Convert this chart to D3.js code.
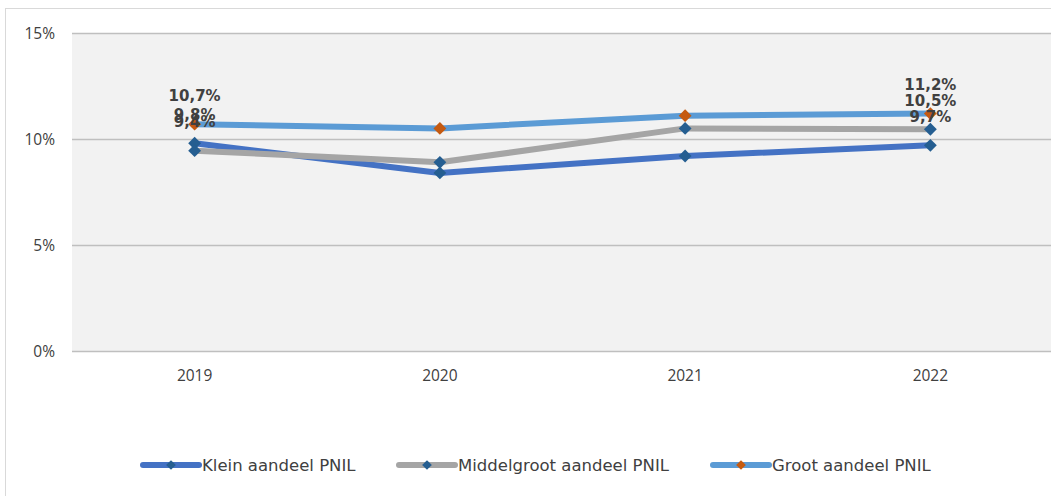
<!DOCTYPE html>
<html lang="nl">
<head>
  <meta charset="UTF-8">
  <title>Aandeel PNIL</title>
  <script src="https://d3js.org/d3.v7.min.js"></script>
  <style>
    body { margin: 0; background: #fff; }
    svg { display: block; }
    .tick-label { font-family: "Open Sans", sans-serif; font-size: 15.5px; fill: #404040; }
    .data-label { font-family: "DejaVu Sans", sans-serif; font-size: 15px; font-weight: bold; fill: #404040; }
    .legend-text { font-family: "DejaVu Sans", sans-serif; font-size: 16.5px; fill: #404040; }
  </style>
</head>
<body>
  <svg id="chart"></svg>
  <script>
    // data
    const years = ["2019", "2020", "2021", "2022"];
    const klein = [9.8, 8.4, 9.2, 9.7];
    const middelgroot = [9.45, 8.9, 10.5, 10.46];
    const groot = [10.7, 10.5, 11.1, 11.2];
    const seriesNames = ["Klein aandeel PNIL", "Middelgroot aandeel PNIL", "Groot aandeel PNIL"];
    const yTicks = [0, 5, 10, 15];

    const W = 1051, H = 496;
    const svg = d3.select("#chart").attr("width", W).attr("height", H);

    const series = [
      { name: seriesNames[0], values: klein, line: "#4472C4", marker: "#255E91" },
      { name: seriesNames[1], values: middelgroot, line: "#A5A5A5", marker: "#255E91" },
      { name: seriesNames[2], values: groot, line: "#5B9BD5", marker: "#C55A11" }
    ];

    // plot area
    const plot = { left: 72, right: 1053, top: 33, bottom: 351 };

    // outer chart frame (runs off the right / bottom)
    svg.append("rect")
      .attr("x", 5.5).attr("y", 8.5)
      .attr("width", 1100).attr("height", 600)
      .attr("fill", "#fff").attr("stroke", "#D9D9D9");

    svg.append("rect")
      .attr("x", plot.left).attr("y", plot.top)
      .attr("width", plot.right - plot.left).attr("height", plot.bottom - plot.top)
      .attr("fill", "#F2F2F2");

    const x = d3.scaleBand().domain(years).range([plot.left, plot.right]);
    const cx = d => x(d) + x.bandwidth() / 2;
    const y = d3.scaleLinear().domain([0, 15]).range([plot.bottom, plot.top]);

    // gridlines
    svg.append("g").selectAll("line")
      .data(yTicks)
      .enter().append("line")
      .attr("x1", plot.left).attr("x2", plot.right)
      .attr("y1", d => Math.round(y(d)) + 0.5).attr("y2", d => Math.round(y(d)) + 0.5)
      .attr("stroke", "#BFBFBF")
      .attr("stroke-width", 1.5);

    // y tick labels
    svg.append("g").selectAll("text")
      .data(yTicks)
      .enter().append("text")
      .attr("class", "tick-label")
      .attr("x", 55).attr("y", d => y(d))
      .attr("dy", "0.36em")
      .attr("text-anchor", "end")
      .text(d => d + "%");

    // x tick labels
    svg.append("g").selectAll("text")
      .data(years)
      .enter().append("text")
      .attr("class", "tick-label")
      .attr("x", d => cx(d)).attr("y", 381)
      .attr("text-anchor", "middle")
      .text(d => d);

    const line = d3.line()
      .x((d, i) => cx(years[i]))
      .y(d => y(d));

    const diamond = d3.symbol().type(d3.symbolDiamond2).size(105);

    series.forEach(s => {
      svg.append("path")
        .attr("d", line(s.values))
        .attr("fill", "none")
        .attr("stroke", s.line)
        .attr("stroke-width", 6)
        .attr("stroke-linejoin", "round");
      svg.append("g").selectAll("path")
        .data(s.values)
        .enter().append("path")
        .attr("d", diamond)
        .attr("transform", (d, i) => `translate(${cx(years[i])},${y(d)})`)
        .attr("fill", s.marker);
    });

    // data labels only on first and last year (klein drawn last, on top)
    series.slice().reverse().forEach(s => {
      svg.append("g").selectAll("text")
        .data([0, years.length - 1])
        .enter().append("text")
        .attr("class", "data-label")
        .attr("x", i => cx(years[i]))
        .attr("y", i => y(s.values[i]) - 29)
        .attr("dy", "0.36em")
        .attr("text-anchor", "middle")
        .text(i => d3.format(".1f")(s.values[i]).replace(".", ",") + "%");
    });

    // legend
    const legendX = [143, 399, 713];
    const legend = svg.append("g").selectAll("g")
      .data(series)
      .enter().append("g")
      .attr("transform", (d, i) => `translate(${legendX[i]},465)`);
    legend.append("line")
      .attr("x1", 0).attr("x2", 56)
      .attr("stroke", d => d.line)
      .attr("stroke-width", 6)
      .attr("stroke-linecap", "round");
    legend.append("path")
      .attr("d", d3.symbol().type(d3.symbolDiamond2).size(60))
      .attr("transform", "translate(28,0)")
      .attr("fill", d => d.marker);
    legend.append("text")
      .attr("class", "legend-text")
      .attr("x", 59).attr("dy", "0.36em")
      .text(d => d.name);
  </script>
</body>
</html>
